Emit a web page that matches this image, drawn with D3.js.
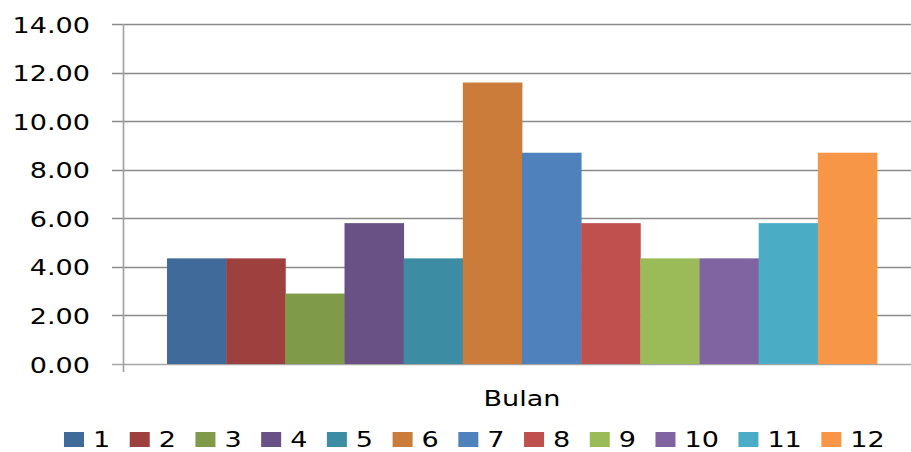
<!DOCTYPE html>
<html>
<head>
<meta charset="utf-8">
<script src="https://cdn.jsdelivr.net/npm/d3@7"></script>
<style>
  html, body { margin: 0; padding: 0; background: #ffffff; }
  svg { display: block; }
  text { font-family: "DejaVu Sans", Verdana, sans-serif; fill: #000; }
</style>
</head>
<body>
<svg id="chart" width="911" height="452"></svg>
<script>
// ---- data ----
const categories = ["Bulan"];
const seriesNames = ["1", "2", "3", "4", "5", "6", "7", "8", "9", "10", "11", "12"];
const seriesValues = [4.35, 4.35, 2.90, 5.80, 4.35, 11.59, 8.70, 5.80, 4.35, 4.35, 5.80, 8.70];
const seriesColors = ["#406A9A", "#9E413E", "#7F9A48", "#695185", "#3C8DA3", "#CB7B3A",
                      "#4F81BD", "#C0504D", "#9BBB59", "#8064A2", "#4BACC6", "#F79646"];
const yTicks = [0, 2, 4, 6, 8, 10, 12, 14];

// ---- layout ----
const svg = d3.select("#chart");
const plot = { left: 123, right: 921, top: 24, bottom: 364 };
const stretch = 1.23;
const fontSize = 22;

const y = d3.scaleLinear().domain([0, 14]).range([plot.bottom, plot.top]);
const x0 = d3.scaleBand().domain(categories).range([plot.left, plot.right])
  .paddingInner(0).paddingOuter(0.062);
const x1 = d3.scaleBand().domain(seriesNames).range([0, x0.bandwidth()]).padding(0);

// gridlines
svg.append("g")
  .selectAll("line")
  .data(yTicks)
  .join("line")
  .attr("x1", plot.left - 11)
  .attr("x2", 911)
  .attr("y1", d => Math.round(y(d)) + 0.5)
  .attr("y2", d => Math.round(y(d)) + 0.5)
  .attr("stroke", d => d === 0 ? "#a6a6a6" : "#8a8a8a")
  .attr("stroke-width", 1.6);

// bars
const groups = svg.append("g")
  .selectAll("g")
  .data(categories)
  .join("g")
  .attr("transform", d => `translate(${x0(d)},0)`);

groups.selectAll("rect")
  .data(seriesNames.map((s, i) => ({ s, v: seriesValues[i], c: seriesColors[i] })))
  .join("rect")
  .attr("x", d => x1(d.s))
  .attr("width", x1.bandwidth() + 0.4)
  .attr("y", d => y(d.v))
  .attr("height", d => y(0) - y(d.v))
  .attr("fill", d => d.c);

// y axis line
svg.append("line")
  .attr("x1", plot.left + 0.5).attr("x2", plot.left + 0.5)
  .attr("y1", plot.top).attr("y2", plot.bottom + 8)
  .attr("stroke", "#a0a0a0").attr("stroke-width", 1.6);

// y tick labels
const fmt = d3.format(".2f");
svg.append("g")
  .selectAll("text")
  .data(yTicks)
  .join("text")
  .attr("font-size", fontSize)
  .attr("y", d => y(d) + 8.5)
  .text(d => fmt(d))
  .each(function () {
    const w = this.getComputedTextLength() * stretch;
    d3.select(this).attr("x", 90 - w)
      .attr("textLength", w).attr("lengthAdjust", "spacingAndGlyphs");
  });

// category label
svg.append("g")
  .selectAll("text")
  .data(categories)
  .join("text")
  .attr("font-size", fontSize)
  .attr("y", 406)
  .text(d => d)
  .each(function (d) {
    const w = this.getComputedTextLength() * stretch;
    d3.select(this).attr("x", x0(d) + x0.bandwidth() / 2 - w / 2)
      .attr("textLength", w).attr("lengthAdjust", "spacingAndGlyphs");
  });

// legend
const legend = svg.append("g");
let lx = 64;
seriesNames.forEach((s, i) => {
  legend.append("rect")
    .attr("x", lx).attr("y", 432)
    .attr("width", 20).attr("height", 15)
    .attr("fill", seriesColors[i]);
  const t = legend.append("text")
    .attr("font-size", fontSize)
    .attr("x", lx + 29)
    .attr("y", 447)
    .text(s);
  const w = t.node().getComputedTextLength() * stretch;
  t.attr("textLength", w).attr("lengthAdjust", "spacingAndGlyphs");
  lx += 20 + 9 + w + 19.5;
});
</script>
</body>
</html>
